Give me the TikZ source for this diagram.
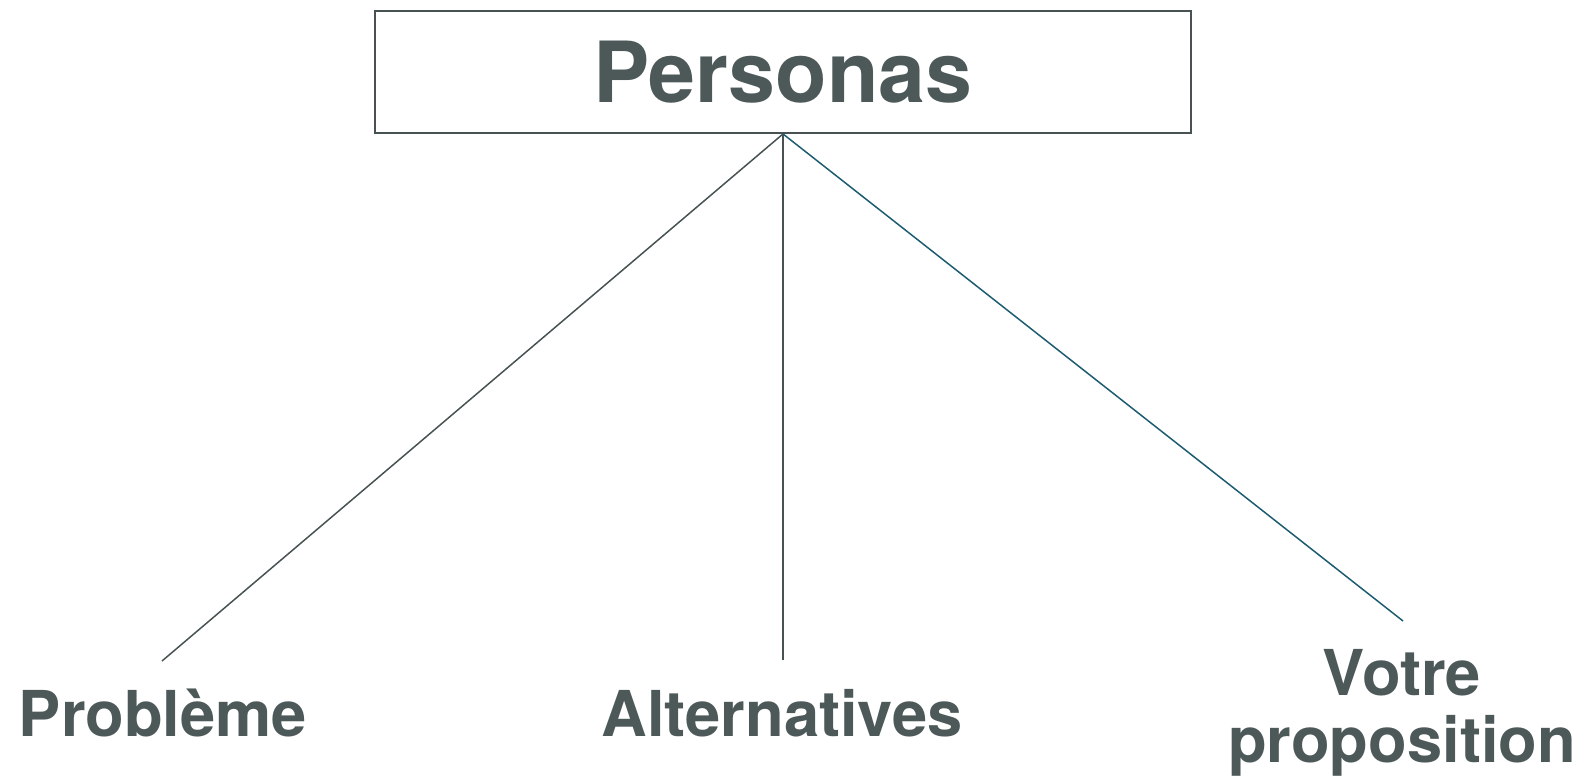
\documentclass[tikz,border=0pt]{standalone}
\usepackage{fontspec}
\setmainfont{TeX Gyre Heros}
\definecolor{textgray}{RGB}{77,89,89}
\definecolor{boxgray}{RGB}{72,82,82}
\definecolor{lineteal}{RGB}{28,92,112}
\begin{document}
\begin{tikzpicture}[
    x=0.02cm, y=-0.02cm,
    title/.style={rectangle, draw=boxgray, line width=1.1pt, minimum width=16.32cm, minimum height=2.44cm, inner sep=0pt, font=\fontsize{48}{48}\selectfont\bfseries, text=textgray},
    lbl/.style={font=\fontsize{36}{38}\selectfont\bfseries, text=textgray, align=center, anchor=base},
    link/.style={line width=0.85pt}
]
    \useasboundingbox (0,0) rectangle (1585,783);
    \node[title] (personas) at (783,72) {Personas};
    \node[lbl] (probleme) at (163,736) {Problème};
    \node[lbl] (alternatives) at (782,736) {Alternatives};
    \node[lbl] (votre) at (1402,762) {Votre\\proposition};
    % free ends of the three branches
    \coordinate (probEnd) at (162,661);
    \coordinate (altEnd) at (783,660);
    \coordinate (votreEnd) at (1403,621);
    \foreach \e/\c in {probEnd/boxgray, altEnd/boxgray, votreEnd/lineteal} {
        \draw[link, draw=\c] (personas.south) -- (\e);
    }
\end{tikzpicture}
\end{document}
